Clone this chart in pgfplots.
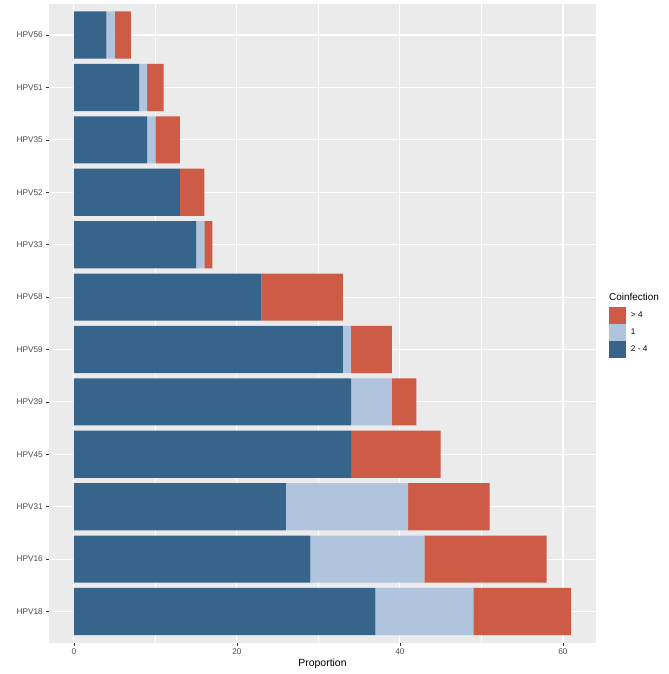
\documentclass[border=0pt]{standalone}
\usepackage{pgfplots}
\pgfplotsset{compat=1.18}
\usepackage{pgfplotstable}
\usepackage{fontspec}
\setmainfont{Liberation Sans}
\definecolor{dblue}{HTML}{36648B}
\definecolor{lblue}{HTML}{B0C4DE}
\definecolor{coral}{HTML}{CD5B45}
\definecolor{panelbg}{HTML}{EBEBEB}
\definecolor{grey30}{HTML}{4D4D4D}
\definecolor{grey20}{HTML}{333333}
\pgfplotstableread{
y  dA  dB  dC
1  37  12  12
2  29  14  15
3  26  15  10
4  34  0   11
5  34  5   3
6  33  1   5
7  23  0   10
8  15  1   1
9  13  0   3
10 9   1   3
11 8   1   2
12 4   1   2
}\datatab
\begin{document}
\begin{tikzpicture}
\useasboundingbox (0,0) rectangle (669bp,674bp);
\begin{axis}[
  at={(49bp,31bp)}, anchor=south west,
  scale only axis, width=547bp, height=639.4bp,
  xbar stacked, bar width=0.9,
  xmin=-3.05, xmax=64.05, ymin=0.4, ymax=12.6,
  xtick={0,20,40,60}, minor xtick={10,30,50},
  ytick={1,...,12},
  yticklabels={HPV18,HPV16,HPV31,HPV45,HPV39,HPV59,HPV58,HPV33,HPV52,HPV35,HPV51,HPV56},
  xtick pos=lower, ytick pos=left,
  axis background/.style={fill=panelbg},
  axis line style={draw=none},
  grid=both,
  major grid style={white, line width=1.1bp},
  minor grid style={white, line width=0.55bp},
  tick align=outside, major tick length=2.7bp, minor tick length=0pt,
  tick style={grey20, line width=0.55bp},
  tick label style={font=\fontsize{8.3}{9}\selectfont, text=grey30},
  /pgf/number format/assume math mode=true,
  xlabel={Proportion},
  xlabel style={font=\fontsize{10.5}{12}\selectfont, text=black, yshift=3bp},
  clip mode=individual,
  legend cell align=left,
  reverse legend,
  legend image code/.code={\path[#1,draw=none] (0bp,-8.5bp) rectangle (17bp,8.5bp);},
  legend style={draw=none, fill=none, inner sep=0pt, outer sep=0pt,
    row sep=0pt, at={(1.0237,0.4457)}, anchor=south west,
    font=\fontsize{8.3}{9}\selectfont,
    nodes={inner sep=0pt, minimum height=17bp},
    /tikz/every odd column/.append style={column sep=5bp}},
]
\addplot[fill=dblue, draw=none] table[x=dA, y=y] {\datatab};
\addlegendentry{2 - 4}
\addplot[fill=lblue, draw=none] table[x=dB, y=y] {\datatab};
\addlegendentry{1}
\addplot[fill=coral, draw=none] table[x=dC, y=y] {\datatab};
\addlegendentry{> 4}
\node[anchor=base west, font=\fontsize{10}{12}\selectfont, inner sep=0pt] at (axis description cs:1.0237,0.535) {Coinfection};
\end{axis}
\end{tikzpicture}
\end{document}
